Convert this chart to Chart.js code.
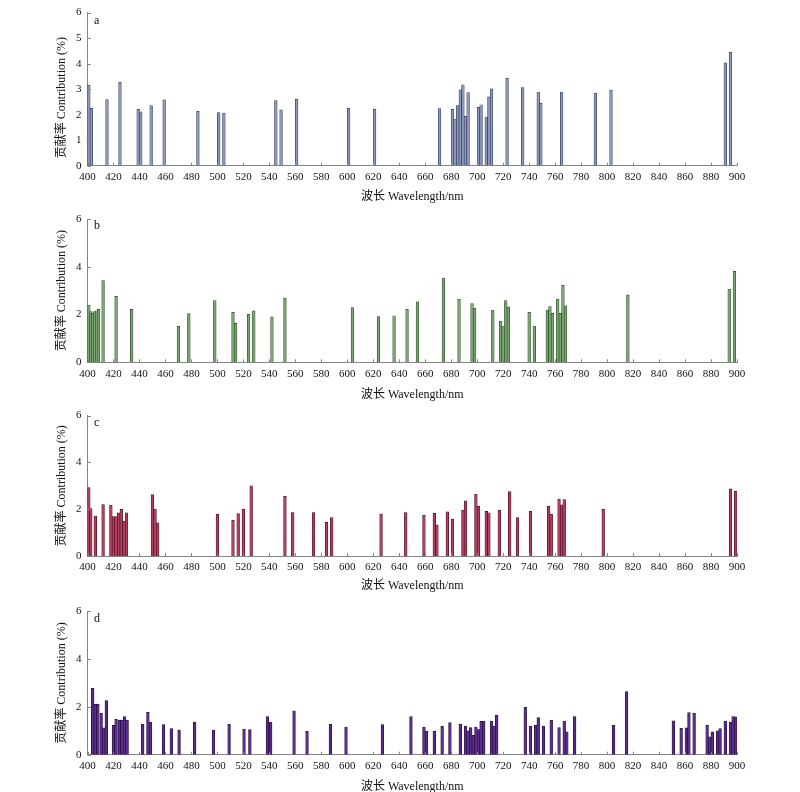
<!DOCTYPE html>
<html>
<head>
<meta charset="utf-8">
<script src="https://cdn.jsdelivr.net/npm/chart.js@4.4.1/dist/chart.umd.min.js"></script>
<style>
    body { margin: 0; background: #fff; overflow: hidden; }
    #wrap { position: relative; width: 800px; height: 792px; }
    canvas { position: absolute; left: 0; }
</style>
</head>
<body>
<div id="wrap">
    <canvas id="chartA" width="800" height="205" style="top:0px"></canvas>
    <canvas id="chartB" width="800" height="198" style="top:205px"></canvas>
    <canvas id="chartC" width="800" height="192" style="top:403px"></canvas>
    <canvas id="chartD" width="800" height="199" style="top:595px"></canvas>
</div>
<script>

// ================= DATA =================

const xTitle = '波长 Wavelength/nm';
const yTitle = '贡献率 Contribution (%)';
const panelLetters = ['a', 'b', 'c', 'd'];
const yStepSizes = [1, 2, 2, 2];

// panel a
const wavelengthA = [401, 403, 415, 425, 439, 441, 449, 459, 485, 501, 505, 545, 549, 561, 601, 621,
    671, 681, 683, 685, 687, 689, 691, 693, 701, 703, 707, 709, 711, 723, 735, 747, 749, 765, 791, 803, 891, 895];
const contributionA = [3.15, 2.25, 2.59, 3.27, 2.21, 2.11, 2.36, 2.58, 2.13, 2.08, 2.06, 2.55, 2.19, 2.61, 2.25, 2.22,
    2.24, 2.21, 1.83, 2.36, 2.97, 3.17, 1.93, 2.87, 2.29, 2.39, 1.91, 2.70, 3.01, 3.42, 3.06, 2.89, 2.44, 2.89, 2.84, 2.96, 4.03, 4.45];

// panel b
const wavelengthB = [401, 402.5, 404, 405.5, 407, 408.5, 412, 422, 434, 470, 478, 498, 512, 514, 524, 528, 542, 552, 604, 624, 636,
    646, 654, 674, 686, 696, 698, 712, 718, 720, 722, 724, 740, 744, 754, 756, 758, 762, 764, 766, 768, 816, 894, 898];
const contributionB = [2.39, 2.12, 2.05, 2.12, 2.16, 2.22, 3.42, 2.76, 2.22, 1.51, 2.04, 2.58, 2.09, 1.63, 2.01, 2.15, 1.90, 2.69, 2.29, 1.91, 1.95,
    2.22, 2.53, 3.53, 2.64, 2.46, 2.27, 2.19, 1.72, 1.52, 2.58, 2.32, 2.09, 1.52, 2.19, 2.33, 2.05, 2.65, 2.05, 3.22, 2.36, 2.82, 3.06, 3.81];

// panel c
const wavelengthC = [401, 402.5, 406, 412, 418, 420, 422, 424, 426, 428, 430, 450, 452, 454, 500, 512, 516, 520, 526, 552, 558, 574, 584, 588, 626,
    645, 659, 667, 669, 677, 681, 689, 691, 699, 701, 707, 709, 717, 725, 731, 741, 755, 757, 763, 765, 767, 797, 895, 899];
const contributionC = [2.92, 2.03, 1.71, 2.20, 2.17, 1.68, 1.68, 1.84, 1.99, 1.49, 1.85, 2.62, 2.00, 1.42, 1.79, 1.53, 1.81, 2.00, 3.00, 2.55, 1.86, 1.86, 1.44, 1.64, 1.79,
    1.86, 1.75, 1.82, 1.33, 1.89, 1.58, 1.96, 2.36, 2.64, 2.13, 1.91, 1.85, 1.96, 2.75, 1.64, 1.91, 2.13, 1.79, 2.43, 2.19, 2.41, 2.00, 2.87, 2.76];

// panel d
const wavelengthD = [404, 406, 408, 410.5, 412.5, 414.5, 420, 422, 424.5, 426.5, 428.5, 430.5, 442.5, 446.5, 448.5, 458.5, 464.5, 470.5, 482.5,
    497, 509, 520.5, 525, 538.5, 541, 559, 569, 587, 599, 627,
    649, 659, 661, 667, 673, 679, 687, 691, 693, 695, 697, 699, 701, 703, 705, 711, 713, 715, 737, 741, 745, 747, 751, 757, 763, 767, 769, 775,
    805, 815, 851, 857, 861, 863, 867, 877, 879, 881, 885, 887, 891, 895, 897, 899];
const contributionD = [2.78, 2.12, 2.12, 1.73, 1.12, 2.26, 1.23, 1.48, 1.45, 1.45, 1.59, 1.45, 1.28, 1.77, 1.37, 1.26, 1.09, 1.03, 1.37,
    1.03, 1.28, 1.07, 1.05, 1.59, 1.37, 1.84, 0.99, 1.27, 1.16, 1.26,
    1.59, 1.14, 0.99, 0.99, 1.19, 1.34, 1.28, 1.20, 1.00, 1.13, 0.81, 1.16, 1.05, 1.40, 1.40, 1.41, 1.20, 1.66, 1.98, 1.19, 1.24, 1.55, 1.20, 1.45, 1.13, 1.41, 0.96, 1.59,
    1.23, 2.64, 1.42, 1.10, 1.12, 1.76, 1.73, 1.24, 0.75, 0.96, 1.00, 1.09, 1.41, 1.35, 1.59, 1.58];

// ================= STYLE =================

const serif = '"Liberation Serif", "Noto Sans CJK SC", serif';
const axisColor = '#858585';
const fills = ['#8d99bb', '#7ba872', '#b3405f', '#5b2e8b'];
const edges = ['#353c5a', '#2d4a29', '#471020', '#240e3c'];

// chart area of each panel, inside its own canvas (px)
const panelBoxes = [
    { top: 7.3, bottom: 1.0, xHeight: 38.3, letterDy: 8.4, titleDy: 8.5 },
    { top: 14, bottom: 1.0, xHeight: 39.7, letterDy: 7, titleDy: 0 },
    { top: 10.3, bottom: 1.5, xHeight: 37.5, letterDy: 7.4, titleDy: 0 },
    { top: 16.3, bottom: 0.3, xHeight: 39.0, letterDy: 7.4, titleDy: 0 }
];

// inward ticks, panel letter and y title
const panelDecor = {
    id: 'panelDecor',
    afterDraw(chart, args, opts) {
        const { ctx, chartArea, scales } = chart;
        ctx.save();
        ctx.strokeStyle = axisColor;
        ctx.lineWidth = 1;
        scales.x.ticks.forEach(t => {
            const px = Math.round(scales.x.getPixelForValue(t.value)) + 0.5;
            ctx.beginPath();
            ctx.moveTo(px, chartArea.bottom);
            ctx.lineTo(px, chartArea.bottom - 3);
            ctx.stroke();
        });
        scales.y.ticks.forEach(t => {
            const py = Math.round(scales.y.getPixelForValue(t.value)) + 0.5;
            ctx.beginPath();
            ctx.moveTo(chartArea.left, py);
            ctx.lineTo(chartArea.left + 3.5, py);
            ctx.stroke();
        });

        ctx.fillStyle = '#111';
        ctx.font = '12px ' + serif;
        ctx.textBaseline = 'middle';
        ctx.textAlign = 'left';
        ctx.fillText(opts.letter, chartArea.left + 6.5, chartArea.top + opts.letterDy);

        ctx.translate(62, (chartArea.top + chartArea.bottom) / 2 + opts.titleDy);
        ctx.rotate(-Math.PI / 2);
        ctx.textAlign = 'center';
        ctx.fillText(yTitle, 0, 0);
        ctx.restore();
    }
};

// ================= CHARTS =================

const makePanel = (canvasId, i, xs, ys) => {
    const box = panelBoxes[i];
    const points = xs.map((x, k) => ({ x: x, y: ys[k] }));

    return new Chart(document.getElementById(canvasId), {
        type: 'bar',
        data: {
            datasets: [{
                data: points,
                backgroundColor: fills[i],
                borderColor: edges[i],
                borderWidth: 0.7,
                barThickness: 2.7
            }]
        },
        options: {
            responsive: false,
            animation: false,
            layout: { padding: { top: box.top, bottom: box.bottom, left: 0, right: 63 } },
            plugins: {
                legend: { display: false },
                tooltip: { enabled: false },
                panelDecor: { letter: panelLetters[i], letterDy: box.letterDy, titleDy: box.titleDy }
            },
            scales: {
                x: {
                    type: 'linear',
                    min: 400,
                    max: 900,
                    offset: false,
                    grid: { display: false, drawTicks: false, offset: false },
                    border: { display: true, color: axisColor, width: 1 },
                    ticks: {
                        stepSize: 20,
                        autoSkip: false,
                        maxRotation: 0,
                        padding: 5,
                        color: '#111',
                        font: { family: serif, size: 11 }
                    },
                    title: {
                        display: true,
                        text: xTitle,
                        color: '#111',
                        padding: 0,
                        font: { family: serif, size: 12 }
                    },
                    afterFit: s => { s.height = box.xHeight; }
                },
                y: {
                    min: 0,
                    max: 6,
                    grid: { display: false, drawTicks: false },
                    border: { display: true, color: axisColor, width: 1 },
                    ticks: {
                        stepSize: yStepSizes[i],
                        padding: 6,
                        color: '#111',
                        font: { family: serif, size: 11 }
                    },
                    afterFit: s => { s.width = 87.5; }
                }
            }
        },
        plugins: [panelDecor]
    });
};

makePanel('chartA', 0, wavelengthA, contributionA);
makePanel('chartB', 1, wavelengthB, contributionB);
makePanel('chartC', 2, wavelengthC, contributionC);
makePanel('chartD', 3, wavelengthD, contributionD);

</script>
</body>
</html>
